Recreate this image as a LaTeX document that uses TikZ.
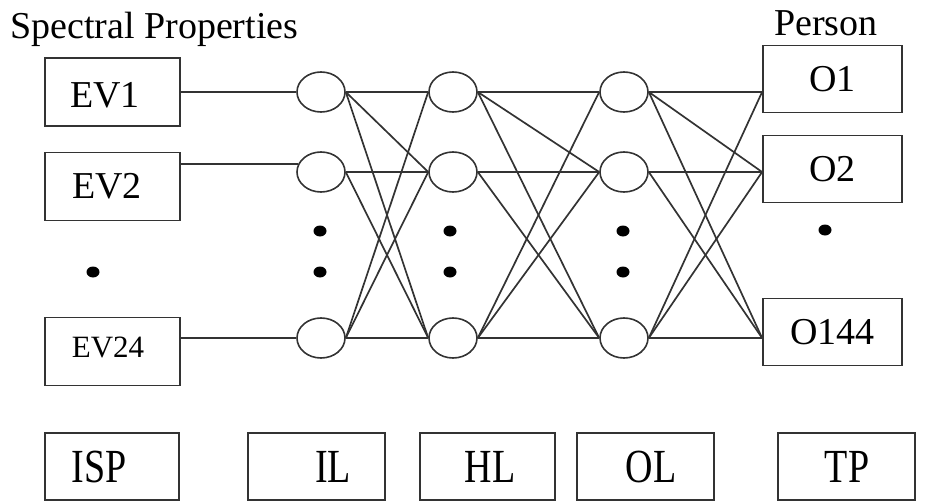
\documentclass[tikz,border=0pt]{standalone}
\usepackage{fontspec}
\setmainfont{Liberation Serif}
\usetikzlibrary{shapes.geometric}
\definecolor{ink}{HTML}{333333}
\begin{document}
\begin{tikzpicture}[x=1pt,y=-1pt,
  lbl/.style={font=\fontsize{38}{40}\selectfont, inner sep=0},
  box/.style={draw=ink, line width=1.8, inner sep=0, font=\fontsize{38}{40}\selectfont},
  evbox/.style={box, minimum width=135, minimum height=68},
  obox/.style={box, minimum width=139, minimum height=67},
  layerbox/.style={draw=ink, line width=1.8, minimum height=67, inner sep=0},
  neuron/.style={ellipse, draw=ink, line width=1.6, minimum width=48, minimum height=40, inner sep=0},
  dotmark/.style={ellipse, fill=black, minimum width=13, minimum height=11, inner sep=0},
  wire/.style={draw=ink, line width=1.7},
  tag/.style={font=\fontsize{38}{40}\selectfont, inner sep=0}]
\useasboundingbox (0,0) rectangle (937,501);

% headings
\node[lbl, anchor=base west] (title) at (10,38) {Spectral Properties};
\node[lbl, anchor=base west] (person) at (774,35) {Person};

% input boxes and their labels
\node[evbox] (ev1) at (112.5,92) {};
\node[evbox] (ev2) at (112.5,186.5) {};
\node[evbox] (ev24) at (112.5,351.5) {};
\node[tag] (ev1txt) at (105,95) {EV1};
\node[tag] (ev2txt) at (107,186) {EV2};
\node[tag, font=\fontsize{31}{33}\selectfont] (ev24txt) at (108,347) {EV24};
\node[dotmark] (evdot) at (93,272) {};

% neuron layers
\foreach \n/\x in {il/321, hl/453, ol/624} {
  \node[neuron] (\n1) at (\x,92) {};
  \node[neuron] (\n2) at (\x,172) {};
  \node[neuron] (\n3) at (\x,338) {};
}
\foreach \x [count=\k] in {320, 450, 623} {
  \node[dotmark] (gapa\k) at (\x,231) {};
  \node[dotmark] (gapb\k) at (\x,272) {};
}

% output boxes
\node[obox] (o1) at (832.5,79) {O1};
\node[obox] (o2) at (832.5,169) {O2};
\node[obox] (o3) at (832.5,332) {O144};
\node[dotmark] (odot) at (825,230) {};

% input wires
\draw[wire] (ev1.east) -- (il1.west);
\draw[wire] (ev2.east |- il2.160) -- (il2.160);
\draw[wire] (ev24.east |- il3.west) -- (il3.west);

% weights between layers
\foreach \s/\t in {il/hl, hl/ol} {
  \foreach \i/\j in {1/1,1/2,1/3,2/2,2/3,3/1,3/2,3/3}
    \draw[wire] (\s\i.east) -- (\t\j.west);
}
\foreach \i/\j in {1/1,1/2,1/3,2/2,2/3,3/1,3/2,3/3}
  \draw[wire] (ol\i.east) -- (o\j.west |- ol\j.east);

% layer legend
\node[layerbox, minimum width=134] (ispbox) at (112,466.5) {};
\node[layerbox, minimum width=137] (ilbox) at (316.5,466.5) {};
\node[layerbox, minimum width=135] (hlbox) at (487.5,466.5) {};
\node[layerbox, minimum width=137] (olbox) at (645.5,466.5) {};
\node[layerbox, minimum width=137] (tpbox) at (846.5,466.5) {};
\node[tag] (isptxt) at (99,467) {\scalebox{1}[1.25]{ISP}};
\node[tag] (iltxt) at (333,467) {\scalebox{1}[1.25]{IL}};
\node[tag] (hltxt) at (490,467) {\scalebox{1}[1.25]{HL}};
\node[tag] (oltxt) at (651,467) {\scalebox{1}[1.25]{OL}};
\node[tag] (tptxt) at (847,467) {\scalebox{1}[1.25]{TP}};
\end{tikzpicture}
\end{document}
